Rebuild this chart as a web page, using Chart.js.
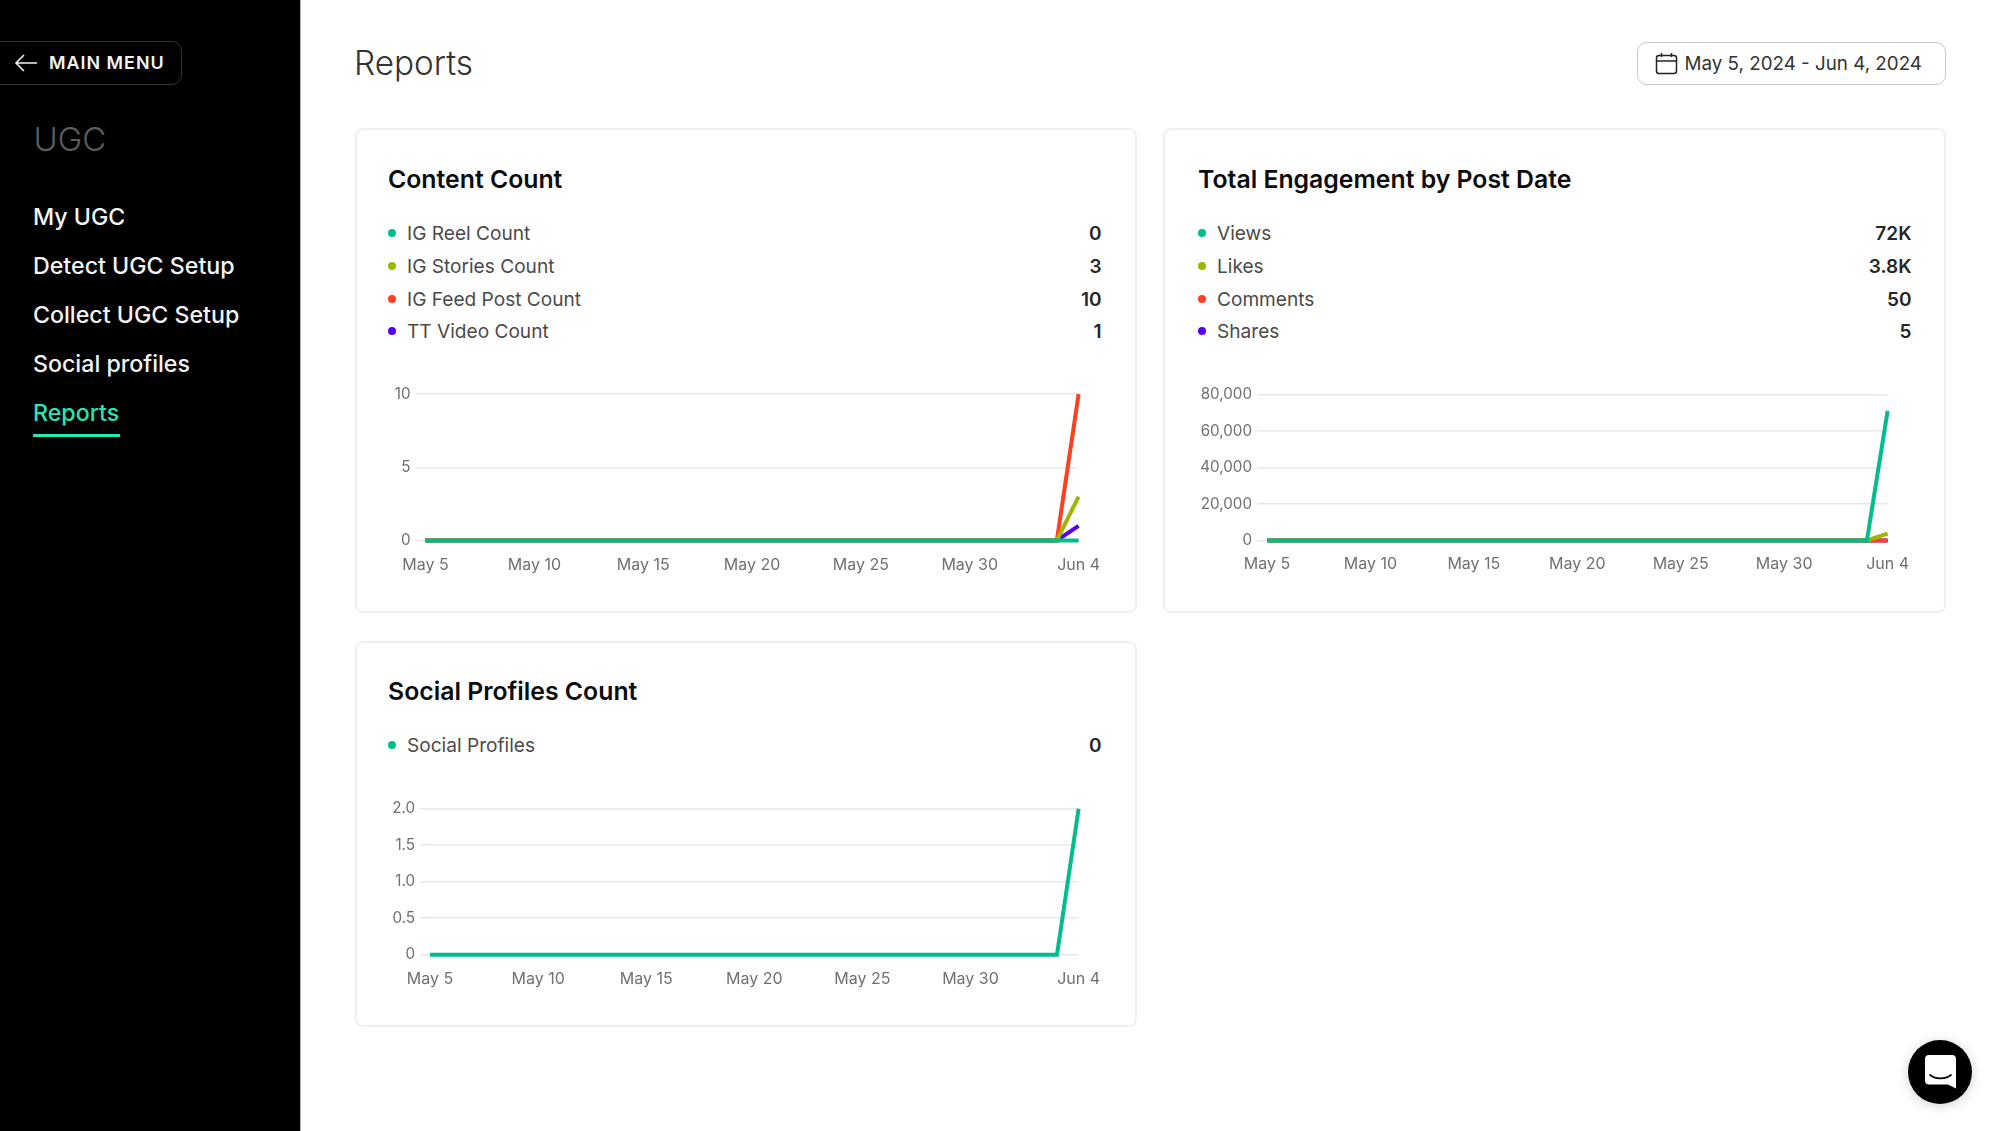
<!DOCTYPE html>
<html>
<head>
<meta charset="utf-8">
<title>Reports</title>
<script src="https://cdn.jsdelivr.net/npm/chart.js@4"></script>
<style>
    html, body { margin: 0; padding: 0; width: 2000px; height: 1131px; overflow: hidden; background: #fff; font-family: Inter, sans-serif; }
    .abs { position: absolute; white-space: nowrap; line-height: 1; transform: translateY(-50%); }

    #sidebar { position: absolute; left: 0; top: 0; width: 300px; height: 1131px; background: #000; border-right: 1px solid #bbb; }
    #menuBtn { position: absolute; left: -10px; top: 41px; width: 190px; height: 42px; border: 1.5px solid #333; border-radius: 10px; }
    #menuText { left: 49px; top: 63px; color: #f2f2f2; font-size: 17.9px; font-weight: 600; letter-spacing: 1px; }
    #ugc { left: 33.5px; top: 139px; color: #5c5c5c; font-size: 33px; font-weight: 300; }
    .nav { left: 33px; color: #f4f4f4; font-size: 23.2px; font-weight: 500; }
    #underline { position: absolute; left: 33px; top: 434px; width: 87px; height: 3px; background: #2be3b4; }

    #pageTitle { left: 354px; top: 64px; color: #333; font-size: 33.3px; font-weight: 300; }
    #dateBtn { position: absolute; left: 1637px; top: 42px; width: 307px; height: 41px; border: 1.5px solid #c9c9c9; border-radius: 10px; }
    #dateText { left: 1684.5px; top: 64px; color: #333; font-size: 18.8px; font-weight: 400; }

    .card { position: absolute; box-sizing: border-box; background: #fff; border: 2px solid #f0f0f0; border-radius: 8px; }
    .cardTitle { color: #0c0c0c; font-size: 24.8px; font-weight: 600; }
    .legendDot { position: absolute; width: 8px; height: 8px; border-radius: 50%; transform: translate(-50%, -50%); }
    .legendName { color: #4a4a4a; font-size: 19.1px; margin-top: 1px; }
    .legendValue { color: #262626; font-size: 19px; font-weight: 600; transform: translate(-100%, -50%); }
    .chartBox { position: absolute; }

    #chat { position: absolute; left: 1908px; top: 1040px; width: 64px; height: 64px; border-radius: 50%; background: #000; box-shadow: 0 2px 12px rgba(0,0,0,0.18); }
</style>
</head>
<body>

<div id="sidebar">
    <div id="menuBtn"></div>
    <svg style="position:absolute;left:14px;top:53px" width="24" height="20" viewBox="0 0 24 20" fill="none" stroke="#f2f2f2" stroke-width="1.6">
        <path d="M23 10H2M10 2L2 10L10 18"/>
    </svg>
    <div id="menuText" class="abs">MAIN MENU</div>
    <div id="ugc" class="abs">UGC</div>
    <div class="abs nav" style="top:218px">My UGC</div>
    <div class="abs nav" style="top:267px">Detect UGC Setup</div>
    <div class="abs nav" style="top:316px">Collect UGC Setup</div>
    <div class="abs nav" style="top:365px">Social profiles</div>
    <div class="abs nav" style="top:414px;color:#2be3b4">Reports</div>
    <div id="underline"></div>
</div>

<div id="pageTitle" class="abs">Reports</div>
<div id="dateBtn"></div>
<svg style="position:absolute;left:1655px;top:52px" width="23" height="23" viewBox="0 0 23 23" fill="none" stroke="#222" stroke-width="1.5">
    <rect x="1.5" y="3.5" width="20" height="18" rx="2.5"/>
    <path d="M1.5 9H21.5M6.5 1V5M16.5 1V5"/>
</svg>
<div id="dateText" class="abs">May 5, 2024 - Jun 4, 2024</div>

<div class="card" style="left:354.5px;top:128px;width:782px;height:485px"></div>
<div class="card" style="left:1163px;top:128px;width:783px;height:485px"></div>
<div class="card" style="left:354.5px;top:641px;width:782px;height:386px"></div>

<div class="abs cardTitle" style="left:388px;top:179px">Content Count</div>
<div class="abs cardTitle" style="left:1198px;top:179px">Total Engagement by Post Date</div>
<div class="abs cardTitle" style="left:388px;top:690.5px">Social Profiles Count</div>

<div id="legends"></div>

<div class="chartBox" style="left:375px;top:380px;width:745px;height:211px"><canvas id="contentChart"></canvas></div>
<div class="chartBox" style="left:1180px;top:380px;width:745px;height:210px"><canvas id="engagementChart"></canvas></div>
<div class="chartBox" style="left:375px;top:791px;width:745px;height:215px"><canvas id="profilesChart"></canvas></div>

<div id="chat">
    <svg style="position:absolute;left:17px;top:15px" width="31" height="34" viewBox="0 0 31 34">
        <path d="M4 0H27A4 4 0 0 1 31 4V33.5L23 29.5H4A4 4 0 0 1 0 25.5V4A4 4 0 0 1 4 0Z" fill="#fff"/>
        <path d="M5 20C11 24.5 20 24.5 26 20" fill="none" stroke="#000" stroke-width="1.7" stroke-linecap="round"/>
    </svg>
</div>

<script>
var dates = ['May 5','May 6','May 7','May 8','May 9','May 10','May 11','May 12','May 13','May 14','May 15','May 16','May 17','May 18','May 19','May 20','May 21','May 22','May 23','May 24','May 25','May 26','May 27','May 28','May 29','May 30','May 31','Jun 1','Jun 2','Jun 3','Jun 4'];

var igReelCount    = [0,0,0,0,0,0,0,0,0,0,0,0,0,0,0,0,0,0,0,0,0,0,0,0,0,0,0,0,0,0,0];
var igStoriesCount = [0,0,0,0,0,0,0,0,0,0,0,0,0,0,0,0,0,0,0,0,0,0,0,0,0,0,0,0,0,0,3];
var igFeedCount    = [0,0,0,0,0,0,0,0,0,0,0,0,0,0,0,0,0,0,0,0,0,0,0,0,0,0,0,0,0,0,10];
var ttVideoCount   = [0,0,0,0,0,0,0,0,0,0,0,0,0,0,0,0,0,0,0,0,0,0,0,0,0,0,0,0,0,0,1];

var views    = [0,0,0,0,0,0,0,0,0,0,0,0,0,0,0,0,0,0,0,0,0,0,0,0,0,0,0,0,0,0,71000];
var likes    = [0,0,0,0,0,0,0,0,0,0,0,0,0,0,0,0,0,0,0,0,0,0,0,0,0,0,0,0,0,0,3800];
var comments = [0,0,0,0,0,0,0,0,0,0,0,0,0,0,0,0,0,0,0,0,0,0,0,0,0,0,0,0,0,0,50];
var shares   = [0,0,0,0,0,0,0,0,0,0,0,0,0,0,0,0,0,0,0,0,0,0,0,0,0,0,0,0,0,0,5];

var socialProfiles = [0,0,0,0,0,0,0,0,0,0,0,0,0,0,0,0,0,0,0,0,0,0,0,0,0,0,0,0,0,0,2];

var contentNames  = ['IG Reel Count','IG Stories Count','IG Feed Post Count','TT Video Count'];
var contentTotals = ['0','3','10','1'];
var engagementNames  = ['Views','Likes','Comments','Shares'];
var engagementTotals = ['72K','3.8K','50','5'];
var profileNames  = ['Social Profiles'];
var profileTotals = ['0'];

var contentTicks    = ['0','5','10'];
var engagementTicks = ['0','20,000','40,000','60,000','80,000'];
var profileTicks    = ['0','0.5','1.0','1.5','2.0'];

var colors = ['#00bd8e','#9db700','#ff3f1f','#5500ee'];

/*
    Legend rows
*/

function drawLegend(names, totals, dotX, rightX, rowsY){
    var box = document.getElementById('legends');
    for(var i = 0; i<names.length; i++){
        var dot = document.createElement('div');
        dot.className = 'legendDot';
        dot.style.left = dotX + 'px';
        dot.style.top = rowsY[i] + 'px';
        dot.style.background = colors[i];
        box.appendChild(dot);

        var name = document.createElement('div');
        name.className = 'abs legendName';
        name.style.left = (dotX + 15) + 'px';
        name.style.top = rowsY[i] + 'px';
        name.textContent = names[i];
        box.appendChild(name);

        var total = document.createElement('div');
        total.className = 'abs legendValue';
        total.style.left = rightX + 'px';
        total.style.top = rowsY[i] + 'px';
        total.textContent = totals[i];
        box.appendChild(total);
    }
}

/*
    Line charts
*/

function drawChart(chartID, names, seriesList, yMax, yStep, tickLabels, layoutBox){
    var ctx = document.getElementById(chartID);

    var config = {
        type: 'line',
        data: {
            labels: dates,
            datasets: seriesList.map((x, i) => ({
                label: names[i],
                data: x,
                borderColor: colors[i],
                backgroundColor: colors[i],
                borderWidth: 4,
                pointRadius: 0,
                tension: 0,
                clip: false,
            }))
        },
        options:{
            responsive: true,
            maintainAspectRatio: false,
            animation: false,
            layout:{
                padding: {
                    top: layoutBox.top,
                    right: layoutBox.right,
                    bottom: 0,
                    left: 0,
                }
            },
            plugins:{
                legend: { display: false },
                tooltip: { enabled: false },
            },
            scales:{
                x: {
                    offset: false,
                    border: { display: false },
                    grid: { display: false, drawTicks: false },
                    afterFit: function(scale){ scale.height = layoutBox.bottom; },
                    ticks:{
                        autoSkip: false,
                        maxRotation: 0,
                        minRotation: 0,
                        padding: layoutBox.labelGap,
                        color: '#707070',
                        font: { family: 'Inter', size: 16 },
                        callback: function(value, index){
                            return index % 5 === 0 ? this.getLabelForValue(value) : null;
                        }
                    }
                },
                y: {
                    min: 0,
                    max: yMax,
                    border: { display: false },
                    grid: { color: '#e8e8e8', lineWidth: 1.5, tickLength: 10 },
                    afterFit: function(scale){ scale.width = layoutBox.left; },
                    ticks:{
                        stepSize: yStep,
                        padding: 5,
                        color: '#707070',
                        font: { family: 'Inter', size: 15.2 },
                        callback: function(value, index){
                            return tickLabels[index];
                        }
                    }
                },
            }
        }
    };
    new Chart(ctx, config);
}

drawLegend(contentNames, contentTotals, 392, 1101.5, [233, 266, 298.5, 331]);
drawLegend(engagementNames, engagementTotals, 1202, 1911.5, [233, 266, 298.5, 331]);
drawLegend(profileNames, profileTotals, 392, 1101.5, [745]);

drawChart('contentChart', contentNames, [igReelCount, igStoriesCount, igFeedCount, ttVideoCount], 10, 5, contentTicks,
    { left: 50.5, top: 13.7, right: 41.4, bottom: 50.5, labelGap: 15 });
drawChart('engagementChart', engagementNames, [views, likes, comments, shares], 80000, 20000, engagementTicks,
    { left: 87, top: 14.5, right: 37.4, bottom: 49.5, labelGap: 14 });
drawChart('profilesChart', profileNames, [socialProfiles], 2, 0.5, profileTicks,
    { left: 55, top: 17.7, right: 41.4, bottom: 51.3, labelGap: 15 });
</script>
</body>
</html>
